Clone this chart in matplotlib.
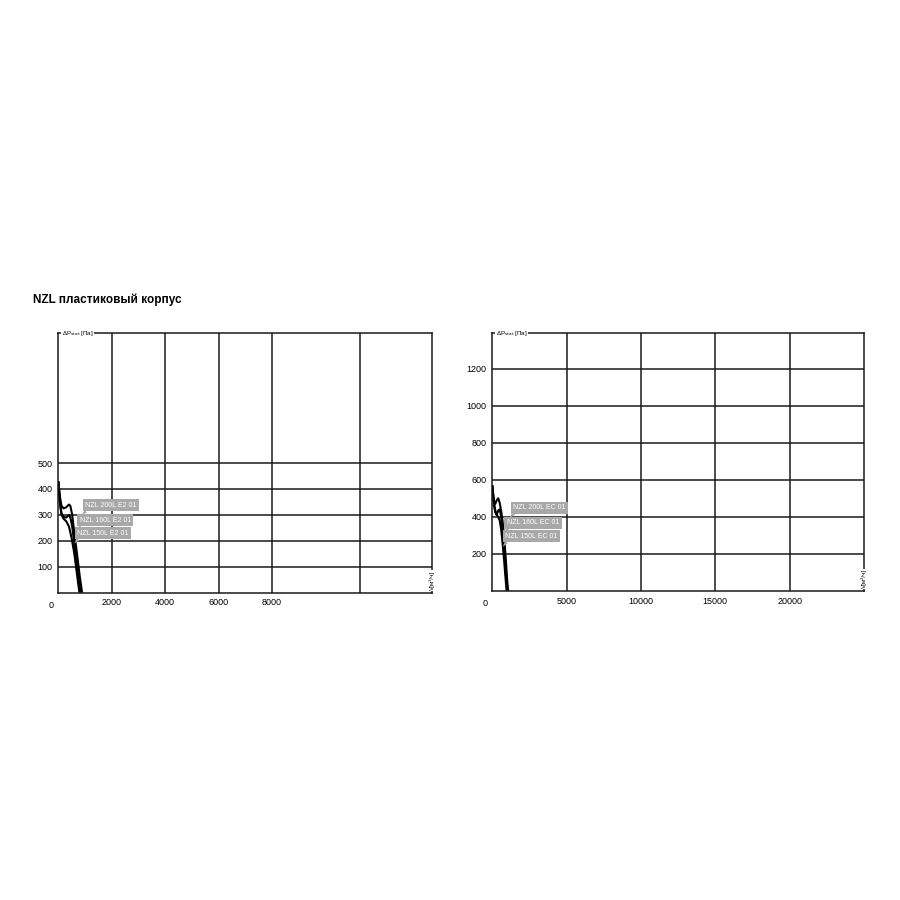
import matplotlib
matplotlib.use('Agg')
import matplotlib.pyplot as plt
from matplotlib.ticker import FixedLocator

plt.rcParams['font.family'] = ['Liberation Sans', 'DejaVu Sans']

# Left chart: E2 fans (flow m3/h, pressure Pa)
e2_names = ['NZL 200L E2 01', 'NZL 160L E2 01', 'NZL 150L E2 01']
e2_x = [
    [0, 60, 120, 200, 300, 400, 450, 520, 600, 700, 800, 890],
    [0, 60, 120, 200, 300, 400, 450, 520, 600, 680, 760, 840],
    [0, 60, 120, 200, 300, 400, 500, 600, 700, 790],
]
e2_y = [
    [430, 370, 335, 325, 330, 340, 335, 300, 230, 150, 65, 0],
    [430, 350, 305, 292, 290, 300, 290, 255, 190, 120, 50, 0],
    [430, 345, 300, 285, 275, 255, 210, 150, 70, 0],
]
e2_label_pos = [(1010, 337), (800, 279), (700, 229)]
e2_label_tip = [(880, 300), (700, 240), (600, 190)]
e2_xticks = [2000, 4000, 6000, 8000]
e2_xgrid_extra = [11300]
e2_yticks = [100, 200, 300, 400, 500]

# Right chart: EC fans
ec_names = ['NZL 200L EC 01', 'NZL 160L EC 01', 'NZL 150L EC 01']
ec_x = [
    [0, 100, 200, 300, 400, 500, 600, 700, 800, 900, 1000, 1070],
    [0, 100, 200, 300, 400, 500, 600, 700, 800, 900, 1010],
    [0, 100, 200, 300, 400, 500, 600, 700, 800, 900, 960],
]
ec_y = [
    [570, 490, 470, 490, 500, 475, 430, 370, 290, 180, 60, 0],
    [570, 470, 425, 410, 435, 440, 400, 320, 220, 100, 0],
    [570, 480, 435, 410, 400, 380, 330, 250, 160, 60, 0],
]
ec_label_pos = [(1420, 450), (980, 368), (860, 296)]
ec_label_tip = [(1150, 395), (850, 320), (700, 238)]
ec_xticks = [5000, 10000, 15000, 20000]
ec_yticks = [200, 400, 600, 800, 1000, 1200]

fig = plt.figure(figsize=(9, 9), dpi=100)
fig.text(0.037, 0.667, 'NZL пластиковый корпус', fontsize=8.5, fontweight='bold',
         va='center', ha='left')

ax1 = fig.add_axes([0.0648, 0.3414, 0.4156, 0.2882])
ax2 = fig.add_axes([0.547, 0.3433, 0.413, 0.2863])


def style_axis(ax, xlim, ylim, xticks, yticks, extra_x=()):
    ax.set_xlim(*xlim)
    ax.set_ylim(*ylim)
    ax.xaxis.set_major_locator(FixedLocator(xticks))
    ax.xaxis.set_minor_locator(FixedLocator(list(extra_x)))
    ax.yaxis.set_major_locator(FixedLocator(yticks))
    ax.grid(True, which='both', color='#1a1a1a', linewidth=1.1)
    ax.tick_params(which='both', length=0, labelsize=6.5, pad=4)
    for s in ax.spines.values():
        s.set_color('#1a1a1a')
        s.set_linewidth(1.1)
    ax.set_axisbelow(True)
    ax.text(-0.012, -0.03, '0', transform=ax.transAxes, ha='right', va='top',
            fontsize=6.5)
    ax.text(0.01, 1.0, '\u0394P$_{\\rm stat}$ [Па]', transform=ax.transAxes,
            fontsize=4.5, ha='left', va='center',
            bbox=dict(facecolor='white', edgecolor='none', pad=0.5))
    ax.text(1.0, 0.01, 'V[м³/ч]', transform=ax.transAxes, fontsize=4.5,
            rotation=90, ha='center', va='bottom',
            bbox=dict(facecolor='white', edgecolor='none', pad=0.5))


def draw_curves(ax, xs, ys, names, pos, tips):
    for x, y in zip(xs, ys):
        ax.plot(x, y, color='black', linewidth=1.5, solid_capstyle='butt')
    for name, (tx, ty), (px, py) in zip(names, pos, tips):
        ax.annotate(name, xy=(px, py), xytext=(tx, ty), fontsize=5,
                    color='white', ha='left', va='center',
                    bbox=dict(boxstyle='square,pad=0.35', facecolor='#a8a8a8',
                              edgecolor='none'),
                    arrowprops=dict(arrowstyle='wedge,tail_width=0.5',
                                    facecolor='#a8a8a8', edgecolor='none',
                                    relpos=(0.06, 0.0), shrinkA=0, shrinkB=0))


style_axis(ax1, (0, 14000), (0, 1000), e2_xticks, e2_yticks, e2_xgrid_extra)
draw_curves(ax1, e2_x, e2_y, e2_names, e2_label_pos, e2_label_tip)

style_axis(ax2, (0, 25000), (0, 1390), ec_xticks, ec_yticks)
draw_curves(ax2, ec_x, ec_y, ec_names, ec_label_pos, ec_label_tip)

fig.savefig('out.png', dpi=100, facecolor='white')
